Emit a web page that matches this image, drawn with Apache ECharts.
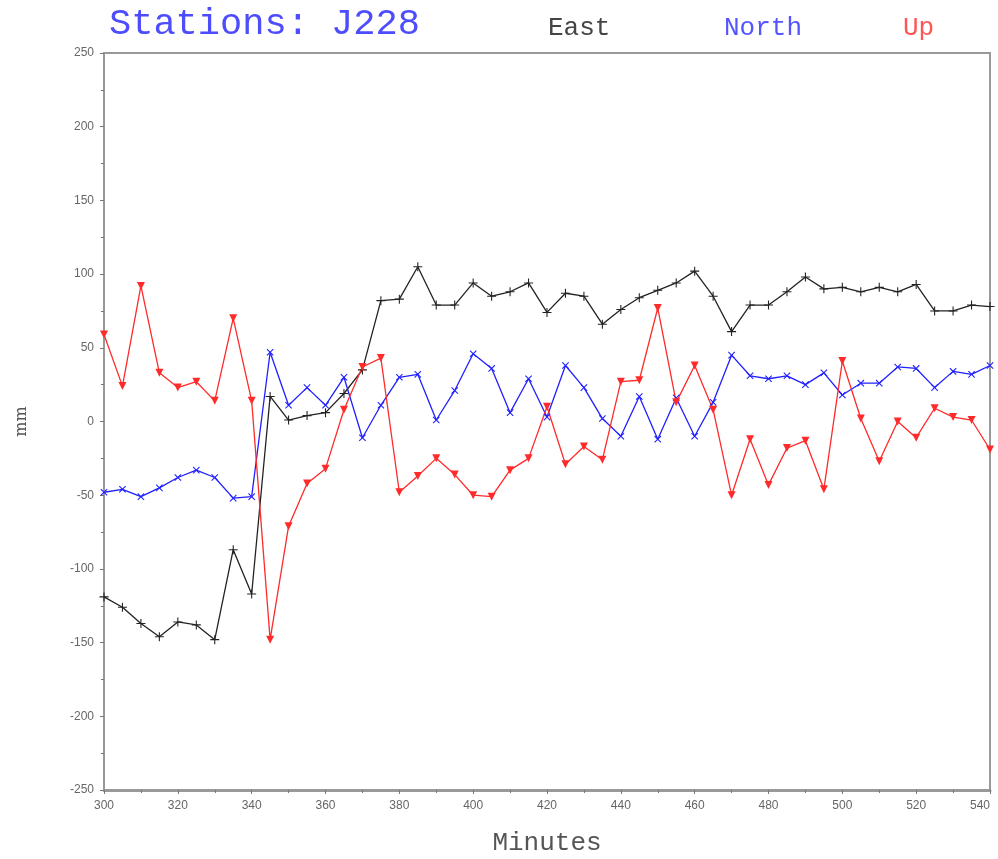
<!DOCTYPE html>
<html>
<head>
<meta charset="utf-8">
<script src="https://cdn.jsdelivr.net/npm/echarts@6/dist/echarts.min.js"></script>
<style>
html, body { margin: 0; padding: 0; background: #fff; }
#main { width: 998px; height: 859px; }
</style>
</head>
<body>
<div id="main"></div>
<script>
var minutes = [300, 305, 310, 315, 320, 325, 330, 335, 340, 345, 350, 355, 360, 365, 370, 375, 380,
    385, 390, 395, 400, 405, 410, 415, 420, 425, 430, 435, 440, 445, 450, 455, 460,
    465, 470, 475, 480, 485, 490, 495, 500, 505, 510, 515, 520, 525, 530, 535, 540];
var east = [-119, -126, -137, -146, -136, -138, -148, -87, -117, 17, 1, 4, 6, 19, 35, 82, 83,
    105, 79, 79, 94, 85, 88, 94, 74, 87, 85, 66, 76, 84, 89, 94, 102,
    85, 61, 79, 79, 88, 98, 90, 91, 88, 91, 88, 93, 75, 75, 79, 78];
var north = [-48, -46, -51, -45, -38, -33, -38, -52, -51, 47, 11, 23, 11, 30, -11, 11, 30,
    32, 1, 21, 46, 36, 6, 29, 3, 38, 23, 2, -10, 17, -12, 16, -10,
    13, 45, 31, 29, 31, 25, 33, 18, 26, 26, 37, 36, 23, 34, 32, 38];
var up = [59, 24, 92, 33, 23, 27, 14, 70, 14, -148, -71, -42, -32, 8, 37, 43, -48,
    -37, -25, -36, -50, -51, -33, -25, 10, -29, -17, -26, 27, 28, 77, 13, 38,
    8, -50, -12, -43, -18, -13, -46, 41, 2, -27, 0, -11, 9, 3, 1, -19];

function pairs(vals) {
    return minutes.map(function (m, i) { return [m, vals[i]]; });
}

var plusPath = 'path://M4.4,0H5.6V4.4H10V5.6H5.6V10H4.4V5.6H0V4.4H4.4Z';
var monoFont = '"Liberation Mono", "DejaVu Sans Mono", monospace';
var tickFont = '"Liberation Sans", Arial, sans-serif';

var chartDom = document.getElementById('main');
var myChart = echarts.init(chartDom, null, { renderer: 'canvas' });
var option;
option = {
    animation: false,
    backgroundColor: '#fff',
    title: [
        { text: 'Stations: J228', left: 104, top: 1,
          textStyle: { fontFamily: monoFont, fontSize: 37, fontWeight: 'normal', color: '#4d4dff' } },
        { text: 'East', left: 543, top: 10,
          textStyle: { fontFamily: monoFont, fontSize: 26, fontWeight: 'normal', color: '#444' } },
        { text: 'North', left: 719, top: 10,
          textStyle: { fontFamily: monoFont, fontSize: 26, fontWeight: 'normal', color: '#5555ff' } },
        { text: 'Up', left: 898, top: 10,
          textStyle: { fontFamily: monoFont, fontSize: 26, fontWeight: 'normal', color: '#ff5555' } }
    ],
    grid: {
        left: 104, right: 8, top: 53, bottom: 69,
        outerBoundsMode: 'none',
        containLabel: false,
        show: true, borderColor: '#999', borderWidth: 2
    },
    xAxis: {
        type: 'value', min: 300, max: 540, interval: 20,
        name: 'Minutes', nameLocation: 'middle', nameGap: 40,
        nameTextStyle: { fontFamily: monoFont, fontSize: 26, color: '#555' },
        axisLine: { onZero: false, lineStyle: { color: '#999', width: 3 } },
        axisTick: { length: 4, lineStyle: { color: '#777' } },
        minorTick: { show: true, splitNumber: 2, length: 3, lineStyle: { color: '#777' } },
        splitLine: { show: false },
        axisLabel: { margin: 10, fontFamily: tickFont, fontSize: 12, color: '#666', alignMaxLabel: 'right' }
    },
    yAxis: {
        type: 'value', min: -250, max: 250, interval: 50,
        name: 'mm', nameLocation: 'middle', nameGap: 74, nameRotate: 90,
        nameTextStyle: { fontFamily: '"DejaVu Serif", serif', fontSize: 16, color: '#555' },
        axisLine: { show: true, onZero: false, lineStyle: { color: '#999', width: 2 } },
        axisTick: { show: true, length: 4, lineStyle: { color: '#777' } },
        minorTick: { show: true, splitNumber: 2, length: 3, lineStyle: { color: '#777' } },
        splitLine: { show: false },
        axisLabel: { margin: 10, fontFamily: tickFont, fontSize: 12, color: '#666' }
    },
    series: [
        {
            name: 'East', type: 'line', data: pairs(east),
            symbol: plusPath, symbolSize: 9,
            lineStyle: { color: '#222', width: 1.3 },
            itemStyle: { color: '#222' }
        },
        {
            name: 'North', type: 'line', data: pairs(north),
            symbol: plusPath, symbolSize: 9, symbolRotate: 45,
            lineStyle: { color: '#2020ff', width: 1.3 },
            itemStyle: { color: '#2020ff' }
        },
        {
            name: 'Up', type: 'line', data: pairs(up),
            symbol: 'triangle', symbolSize: 8, symbolRotate: 180,
            lineStyle: { color: '#ff2a2a', width: 1.3 },
            itemStyle: { color: '#ff2a2a' }
        }
    ]
};
option && myChart.setOption(option);
</script>
</body>
</html>
